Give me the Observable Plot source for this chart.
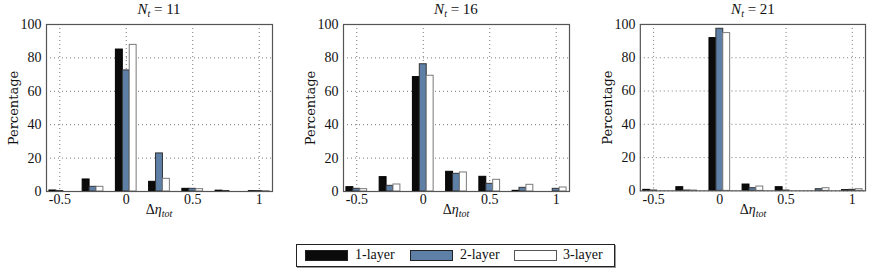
<!DOCTYPE html>
<html><head><meta charset="utf-8">
<script src="https://cdn.jsdelivr.net/npm/d3@7"></script>
<script src="https://cdn.jsdelivr.net/npm/@observablehq/plot@0.6"></script>
<style>
body{margin:0;background:#fff;font-family:"Liberation Serif","DejaVu Serif",serif;color:#111;}
#root{position:relative;width:871px;height:269px;overflow:hidden;}
.svgwrap{position:absolute;top:12px;}
.svgwrap svg, .svgwrap svg text{font-family:"Liberation Serif",serif !important;}
.svgwrap svg g[aria-label="y-axis label"] text{font-family:"DejaVu Serif",serif !important;font-size:13px !important;}
.title{position:absolute;top:0px;font-size:15px;text-align:center;width:226px;line-height:18px;}
.xlab{position:absolute;top:202px;font-size:14px;text-align:center;width:226px;line-height:16px;}
sub{font-size:10px;vertical-align:-3px;line-height:0;}
#legend{position:absolute;left:296px;top:244px;width:317px;height:21px;border:1px solid #222;box-shadow:1px 1px 0 #999;background:#fff;font-size:14px;}
.sw{position:absolute;top:5px;height:9px;}
.lt{position:absolute;top:1px;line-height:18px;}
</style>
</head><body>
<div id="root"></div>
<script>
// Bin centres (Δη_tot) and series
const bins = [-0.5, -0.25, 0, 0.25, 0.5, 0.75, 1];
const seriesNames = ["1-layer", "2-layer", "3-layer"];
const panelNt = [11, 16, 21];
const xTicks = [-0.5, 0, 0.5, 1];
const yTicks = [0, 20, 40, 60, 80, 100];

// N_t = 11
const nt11_layer1 = [0.6, 7.2, 85.0, 5.8, 1.6, 0.5, 0.2];
const nt11_layer2 = [0.3, 2.8, 72.5, 22.8, 1.6, 0.3, 0.3];
const nt11_layer3 = [0.0, 2.8, 87.8, 7.6, 1.4, 0.0, 0.2];
// N_t = 16
const nt16_layer1 = [2.6, 8.6, 68.5, 11.8, 8.8, 0.4, 0.0];
const nt16_layer2 = [1.6, 3.4, 76.2, 10.6, 4.6, 2.2, 1.6];
const nt16_layer3 = [1.4, 4.2, 69.3, 11.4, 7.0, 4.0, 2.4];
// N_t = 21
const nt21_layer1 = [0.6, 2.2, 91.8, 3.8, 2.2, 0.0, 0.4];
const nt21_layer2 = [0.2, 0.2, 97.4, 1.6, 0.2, 1.0, 0.6];
const nt21_layer3 = [0.0, 0.2, 94.8, 2.6, 0.0, 1.6, 1.0];

const panelData = [
  [nt11_layer1, nt11_layer2, nt11_layer3],
  [nt16_layer1, nt16_layer2, nt16_layer3],
  [nt21_layer1, nt21_layer2, nt21_layer3]
];

const fills = ["#0b0b0b", "#5e7fa6", "#ffffff"];
const strokes = ["#000000", "#333333", "#7a7a7a"];
const barW = 0.052;

const frameLefts = [46, 343, 640];
const mL = 46, mR = 6, frameW = 226;
const root = document.getElementById("root");

panelData.forEach((arrs, p) => {
  const rows = [];
  arrs.forEach((vals, s) => vals.forEach((v, i) => {
    const x1 = bins[i] + (s - 1.5) * barW;
    rows.push({bin: bins[i], s, series: seriesNames[s], value: v, x1, x2: x1 + barW});
  }));
  const chart = Plot.plot({
    width: frameW + mL + mR,
    height: 199,
    marginLeft: mL, marginRight: mR, marginTop: 12, marginBottom: 20,
    style: {fontFamily: "Liberation Serif, serif", fontSize: "14px", color: "#111", background: "transparent"},
    x: {domain: [-0.6, 1.1]},
    y: {domain: [0, 100]},
    marks: [
      Plot.gridX(xTicks, {stroke: "#777", strokeOpacity: 1, strokeDasharray: "1,3"}),
      Plot.gridY(yTicks, {stroke: "#777", strokeOpacity: 1, strokeDasharray: "1,3"}),
      Plot.rectY(rows, {x1: "x1", x2: "x2", y: "value", fill: d => fills[d.s], stroke: d => strokes[d.s], strokeWidth: 1, inset: 0}),
      Plot.axisX({ticks: xTicks, tickSize: 0, tickPadding: 3, tickFormat: d => String(d), label: null, fontSize: 14}),
      Plot.axisY({ticks: yTicks, tickSize: 0, tickPadding: 5, tickFormat: d => String(d), label: "Percentage", labelAnchor: "center", labelArrow: "none", labelOffset: 38, fontSize: 14}),
      Plot.frame({stroke: "#555", strokeWidth: 1.2})
    ]
  });
  const wrap = document.createElement("div");
  wrap.className = "svgwrap";
  wrap.style.left = (frameLefts[p] - mL) + "px";
  wrap.appendChild(chart);
  root.appendChild(wrap);

  const t = document.createElement("div");
  t.className = "title";
  t.style.left = frameLefts[p] + "px";
  t.innerHTML = `<i>N</i><sub><i>t</i></sub> = ${panelNt[p]}`;
  root.appendChild(t);

  const xl = document.createElement("div");
  xl.className = "xlab";
  xl.style.left = frameLefts[p] + "px";
  xl.innerHTML = `Δ<i>η</i><sub><i>tot</i></sub>`;
  root.appendChild(xl);
});

const legend = document.createElement("div");
legend.id = "legend";
const swLeft = [8, 113, 217], txLeft = [58, 163, 266];
seriesNames.forEach((name, s) => {
  const sw = document.createElement("div");
  sw.className = "sw";
  sw.style.left = swLeft[s] + "px";
  sw.style.width = "41px";
  sw.style.background = fills[s];
  sw.style.border = "1px solid " + (s === 2 ? "#555" : "#222");
  legend.appendChild(sw);
  const tx = document.createElement("div");
  tx.className = "lt";
  tx.style.left = txLeft[s] + "px";
  tx.textContent = name;
  legend.appendChild(tx);
});
root.appendChild(legend);
</script>
</body></html>
